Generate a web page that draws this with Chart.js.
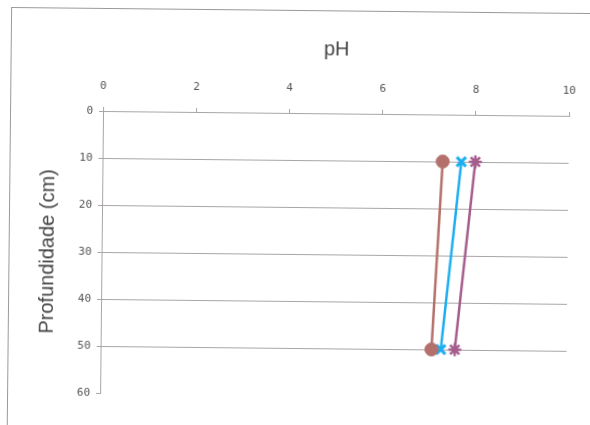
<!DOCTYPE html>
<html>
<head>
<meta charset="utf-8">
<script src="https://cdn.jsdelivr.net/npm/chart.js@4/dist/chart.umd.min.js"></script>
<style>
  html, body { margin: 0; padding: 0; background: #fff; overflow: hidden; width: 590px; height: 425px; }
  #sheet {
    position: relative; width: 590px; height: 425px;
    transform: rotate(0.6deg); transform-origin: 295px 212px;
  }
  #frame {
    position: absolute; left: 9px; top: 10px; width: 700px; height: 600px;
    border: 1px solid #9a9a9a; box-sizing: border-box;
  }
  canvas { position: absolute; left: 0; top: 0; }
</style>
</head>
<body>
<div id="sheet">
  <div id="frame"></div>
  <canvas id="c" width="590" height="425"></canvas>
</div>
<script>
// Soil profile: pH readings at two depths for three sampling series
const depths = [10, 50];
const phSerie1 = [7.3, 7.1];
const phSerie2 = [7.7, 7.3];
const phSerie3 = [8.0, 7.6];

const phTicks = [0, 2, 4, 6, 8, 10];
const depthTicks = [0, 10, 20, 30, 40, 50, 60];

const toPoints = vals => depths.map((d, i) => ({ x: vals[i], y: d }));

const gridGray = '#aaa5a5';
const tickFont = { family: 'DejaVu Sans Mono', size: 11 };
const titleFont = { family: 'Liberation Sans', size: 20 };

new Chart(document.getElementById('c'), {
  type: 'scatter',
  data: {
    datasets: [
      {
        label: 'Série 1',
        data: toPoints(phSerie1),
        showLine: true,
        borderColor: '#b4706a',
        backgroundColor: '#b4706a',
        borderWidth: 2.5,
        pointStyle: 'circle',
        pointRadius: 6.5,
        pointBorderWidth: 1
      },
      {
        label: 'Série 2',
        data: toPoints(phSerie2),
        showLine: true,
        borderColor: '#1aaef0',
        backgroundColor: '#1aaef0',
        borderWidth: 2.5,
        pointStyle: 'crossRot',
        pointRadius: 6.5,
        pointBorderWidth: 3
      },
      {
        label: 'Série 3',
        data: toPoints(phSerie3),
        showLine: true,
        borderColor: '#a45c8c',
        backgroundColor: '#a45c8c',
        borderWidth: 2.5,
        pointStyle: 'star',
        pointRadius: 6.5,
        pointBorderWidth: 2.5
      }
    ]
  },
  options: {
    responsive: false,
    animation: false,
    layout: { padding: { left: 0, top: 0, right: 22, bottom: 30 } },
    plugins: { legend: { display: false }, tooltip: { enabled: false } },
    scales: {
      x: {
        type: 'linear',
        position: 'top',
        min: 0, max: 10,
        afterBuildTicks: s => { s.ticks = phTicks.map(v => ({ value: v })); },
        afterFit: s => { s.height = 113; },
        ticks: { font: tickFont, color: '#555', padding: 14, maxRotation: 0 },
        grid: { drawOnChartArea: false, drawTicks: true, tickLength: 4, color: gridGray, tickColor: gridGray },
        border: { display: true, color: gridGray, width: 1 },
        title: { display: true, text: 'pH', font: titleFont, color: '#444', padding: { top: 37, bottom: 0 } }
      },
      y: {
        type: 'linear',
        reverse: true,
        min: 0, max: 60,
        afterBuildTicks: s => { s.ticks = depthTicks.map(v => ({ value: v })); },
        afterFit: s => { s.width = 102; },
        ticks: { font: tickFont, color: '#555', padding: 6 },
        grid: {
          drawTicks: true, tickLength: 4,
          color: c => (c.tick && c.tick.value === 60 ? 'rgba(0,0,0,0)' : gridGray),
          tickColor: gridGray
        },
        border: { display: true, color: gridGray, width: 1 },
        title: { display: true, text: 'Profundidade (cm)', font: titleFont, color: '#444', padding: { top: 36, bottom: 0 } }
      }
    }
  }
});
</script>
</body>
</html>
